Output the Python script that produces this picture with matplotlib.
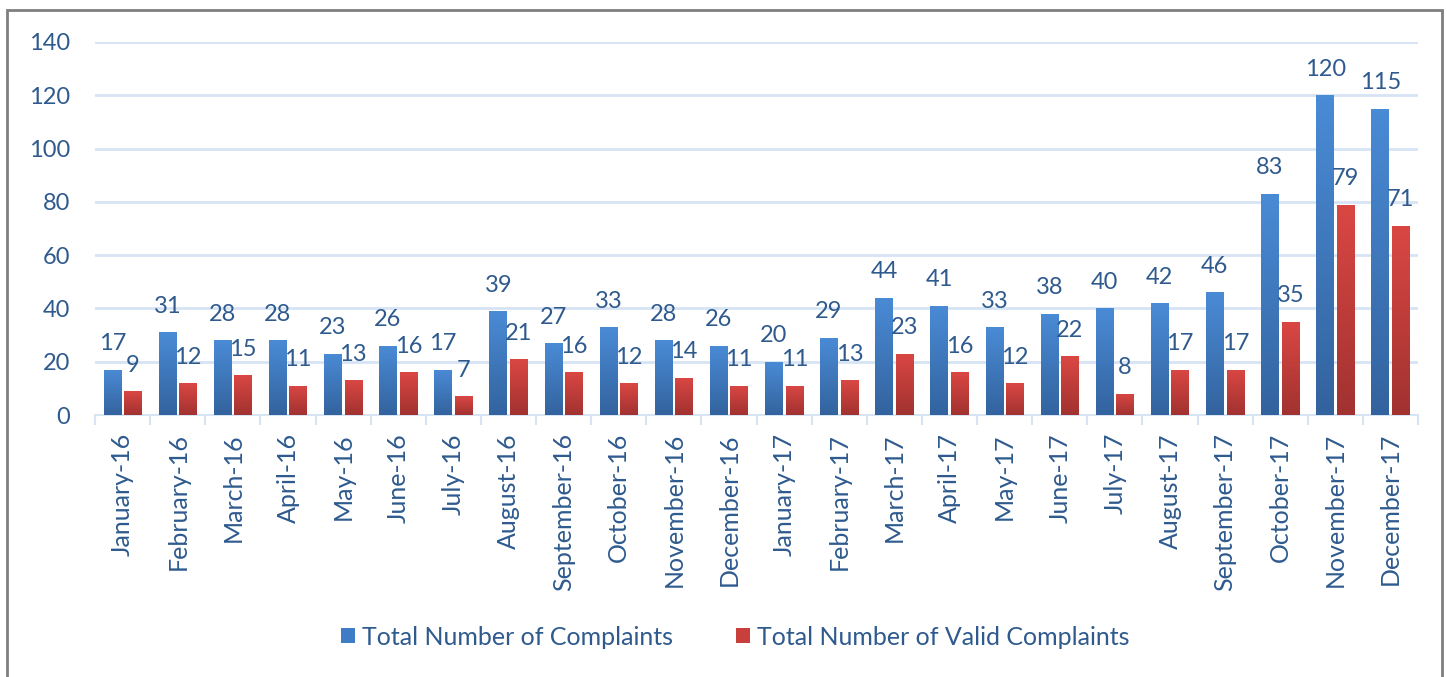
import numpy as np
import matplotlib.pyplot as plt
from matplotlib.colors import LinearSegmentedColormap
from matplotlib.patches import Rectangle, Patch

# Datos
months = ["January-16", "February-16", "March-16", "April-16", "May-16", "June-16",
          "July-16", "August-16", "September-16", "October-16", "November-16", "December-16",
          "January-17", "February-17", "March-17", "April-17", "May-17", "June-17",
          "July-17", "August-17", "September-17", "October-17", "November-17", "December-17"]
total = [17, 31, 28, 28, 23, 26, 17, 39, 27, 33, 28, 26,
         20, 29, 44, 41, 33, 38, 40, 42, 46, 83, 120, 115]
valid = [9, 12, 15, 11, 13, 16, 7, 21, 16, 12, 14, 11,
         11, 13, 23, 16, 12, 22, 8, 17, 17, 35, 79, 71]
y_ticks = [0, 20, 40, 60, 80, 100, 120, 140]

text_col = "#2E5A8E"
grid_col = "#D6E4F4"

plt.rcParams['font.family'] = ['Lato', 'DejaVu Sans']

fig = plt.figure(figsize=(14.47, 6.77), dpi=100)
ax = fig.add_axes([0.0657, 0.387, 0.9143, 0.551])

x = np.arange(len(months))
w = 0.32
b1 = ax.bar(x - 0.185, total, w, color="#3F7CC6", zorder=2)
b2 = ax.bar(x + 0.185, valid, w, color="#C93F3B", zorder=2)

# degradado vertical tipo Excel
blue_cmap = LinearSegmentedColormap.from_list("b", ["#33639E", "#4A8BD6"])
red_cmap = LinearSegmentedColormap.from_list("r", ["#A13230", "#DA4743"])
grad = np.linspace(0, 1, 100).reshape(-1, 1)
for bars, cm in [(b1, blue_cmap), (b2, red_cmap)]:
    for p in bars:
        x0, h, bw = p.get_x(), p.get_height(), p.get_width()
        im = ax.imshow(grad, extent=[x0, x0 + bw, 0, h], origin='lower',
                       cmap=cm, aspect='auto', zorder=3)
        im.set_clip_path(p)

# etiquetas de datos
for bars, vals in [(b1, total), (b2, valid)]:
    for p, v in zip(bars, vals):
        ax.annotate(str(v), (p.get_x() + p.get_width() / 2, v),
                    xytext=(0, 14), textcoords='offset points',
                    ha='center', va='baseline', fontsize=17, color=text_col)

ax.set_xlim(-0.5, len(months) - 0.5)
ax.set_ylim(0, 140)
ax.set_yticks(y_ticks)
ax.yaxis.grid(True, color=grid_col, lw=2, zorder=0)
ax.set_axisbelow(True)

ax.set_xticks(x)
ax.set_xticklabels(months, rotation=90, fontsize=18, color=text_col)
ax.set_xticks(np.arange(-0.5, len(months)), minor=True)
ax.tick_params(axis='x', which='major', length=0, pad=13)
ax.tick_params(axis='x', which='minor', length=7, width=1.5, color=grid_col)
ax.tick_params(axis='y', length=0, pad=18, labelsize=17, labelcolor=text_col)

for s in ['top', 'right', 'left']:
    ax.spines[s].set_visible(False)
ax.spines['bottom'].set_color(grid_col)
ax.spines['bottom'].set_linewidth(1.5)

handles = [Patch(facecolor="#3F7CC6", label="Total Number of Complaints"),
           Patch(facecolor="#C93F3B", label="Total Number of Valid Complaints")]
fig.legend(handles=handles, loc='center', bbox_to_anchor=(0.508, 0.059), ncol=2,
           frameon=False, fontsize=18, labelcolor=text_col,
           handlelength=0.56, handleheight=0.56, handletextpad=0.3, columnspacing=2.5)

# borde del gráfico
fig.patches.append(Rectangle((7 / 1447, -0.01), 1435 / 1447, 1 - 10 / 677 + 0.01,
                             transform=fig.transFigure, fill=False,
                             edgecolor="#7F7F7F", lw=2))

fig.savefig("out.png", dpi=100)
